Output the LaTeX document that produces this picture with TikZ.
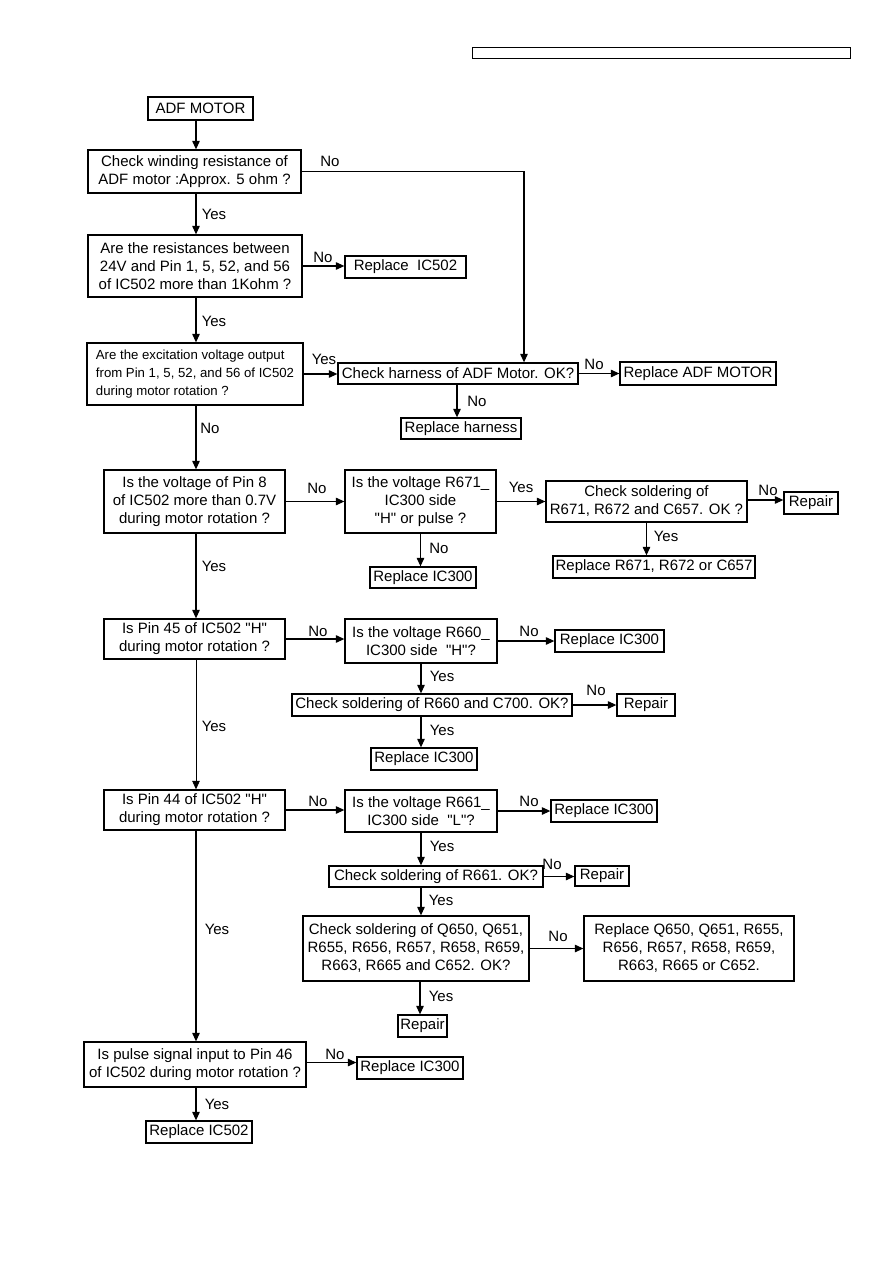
\documentclass[tikz,border=0pt]{standalone}
\usepackage{fontspec}
\setmainfont{Liberation Sans}[Ligatures=TeXOff]
\usetikzlibrary{arrows.meta}
\begin{document}
\begin{tikzpicture}[x=1pt,y=-1pt,
  box/.style={draw,line width=1.3pt,inner sep=0pt,align=center,font=\fontsize{15}{18}\selectfont},
  lbl/.style={inner sep=0pt,font=\fontsize{15}{18}\selectfont},
  arr/.style={line width=1.1pt,-{Triangle[length=8.5pt,width=7.5pt]}},
  thinarr/.style={line width=0.7pt,-{Triangle[length=8.5pt,width=7.5pt]}},
  ln/.style={line width=1.1pt}]
\useasboundingbox (0,0) rectangle (893,1263);
\coordinate (spine) at (196,0);
\coordinate (col) at (421,0);
\coordinate (harnin) at (524,0);
% header
\node[draw,line width=0.8pt,minimum width=378pt,minimum height=11pt,inner sep=0pt] (hdr) at (661,52.5) {};
% nodes
\node[box,minimum width=105pt,minimum height=23pt] (start) at (200.5,108.5) {ADF MOTOR};
\node[box,minimum width=213pt,minimum height=43pt] (b1) at (194.5,171.5) {Check winding resistance of\\ADF motor :Approx. 5 ohm ?};
\node[box,minimum width=214pt,minimum height=62pt] (b2) at (195,266) {Are the resistances between\\24V and Pin 1, 5, 52, and 56\\of IC502 more than 1Kohm ?};
\node[box,minimum width=121pt,minimum height=22pt] (rA) at (405.5,267) {Replace\ \ IC502};
\node[box,minimum width=216pt,minimum height=62pt,align=left,font=\fontsize{13.2}{18}\selectfont] (b3) at (195,374) {Are the excitation voltage output\\from Pin 1, 5, 52, and 56 of IC502\\during motor rotation ?};
\node[box,minimum width=240pt,minimum height=21pt] (harn) at (458,373.5) {Check harness of ADF Motor. OK?};
\node[box,minimum width=156pt,minimum height=23pt] (rADF) at (698,373.5) {Replace ADF MOTOR};
\node[box,minimum width=120pt,minimum height=21pt] (rharn) at (461,428.5) {Replace harness};
\node[box,minimum width=181pt,minimum height=63pt] (b4) at (194.5,501.5) {Is the voltage of Pin 8\\of IC502 more than 0.7V\\during motor rotation ?};
\node[box,minimum width=151pt,minimum height=63pt] (b5) at (420.5,501.5) {Is the voltage R671\_\\IC300 side\\"H" or pulse ?};
\node[box,minimum width=201pt,minimum height=41pt] (b6) at (646.5,501.5) {Check soldering of\\R671, R672 and C657. OK ?};
\node[box,minimum width=54pt,minimum height=22pt] (rep1) at (811,503) {Repair};
\node[box,minimum width=202pt,minimum height=22pt] (rR) at (654,567) {Replace R671, R672 or C657};
\node[box,minimum width=106pt,minimum height=21pt] (ra) at (423,577.5) {Replace IC300};
\node[box,minimum width=181pt,minimum height=40pt] (b7) at (194.5,639) {Is Pin 45 of IC502 "H"\\during motor rotation ?};
\node[box,minimum width=152pt,minimum height=44pt] (b8) at (421,641) {Is the voltage R660\_\\IC300 side\ \ "H"?};
\node[box,minimum width=109pt,minimum height=22pt] (rb) at (609.5,641) {Replace IC300};
\node[box,minimum width=280pt,minimum height=22pt] (b9) at (432,705) {Check soldering of R660 and C700. OK?};
\node[box,minimum width=58pt,minimum height=22pt] (rep2) at (646,705) {Repair};
\node[box,minimum width=106pt,minimum height=22pt] (rc) at (424,759) {Replace IC300};
\node[box,minimum width=181pt,minimum height=40pt] (b10) at (194.5,810) {Is Pin 44 of IC502 "H"\\during motor rotation ?};
\node[box,minimum width=152pt,minimum height=42pt] (b11) at (421,811) {Is the voltage R661\_\\IC300 side\ \ "L"?};
\node[box,minimum width=106pt,minimum height=22pt] (rd) at (604,811) {Replace IC300};
\node[box,minimum width=214pt,minimum height=21pt] (b12) at (436,876.5) {Check soldering of R661. OK?};
\node[box,minimum width=54pt,minimum height=20pt] (rep3) at (602,876) {Repair};
\node[box,minimum width=226pt,minimum height=65pt] (b13) at (416,948.5) {Check soldering of Q650, Q651,\\R655, R656, R657, R658, R659,\\R663, R665 and C652. OK?};
\node[box,minimum width=210pt,minimum height=65pt] (b14) at (689,948.5) {Replace Q650, Q651, R655,\\R656, R657, R658, R659,\\R663, R665 or C652.};
\node[box,minimum width=49pt,minimum height=22pt] (rep4) at (422.5,1026) {Repair};
\node[box,minimum width=222pt,minimum height=45pt] (b15) at (195,1064.5) {Is pulse signal input to Pin 46\\of IC502 during motor rotation ?};
\node[box,minimum width=106pt,minimum height=22pt] (re) at (410,1068) {Replace IC300};
\node[box,minimum width=106pt,minimum height=22pt] (rB) at (199,1132) {Replace IC502};
% connectors
\draw[arr] (spine |- start.south) -- (spine |- b1.north);
\draw[arr] (b1.east) -| (harnin |- harn.north);
\draw[arr] (spine |- b1.south) -- (spine |- b2.north);
\draw[arr] (b2.east) -- (b2.east -| rA.west);
\draw[arr] (spine |- b2.south) -- (spine |- b3.north);
\draw[arr] (b3.east) -- (b3.east -| harn.west);
\draw[arr] (harn.east) -- (harn.east -| rADF.west);
\draw[arr] ([xshift=-1pt]harn.south) -- ([xshift=-1pt]harn.south |- rharn.north);
\draw[arr] (spine |- b3.south) -- (spine |- b4.north);
\draw[arr] (b4.east) -- (b4.east -| b5.west);
\draw[arr] (b5.east) -- (b5.east -| b6.west);
\draw[arr] ([yshift=1.5pt]b6.east) -- ([yshift=1.5pt]b6.east -| rep1.west);
\draw[arr] (b6.south) -- (b6.south |- rR.north);
\draw[arr] (b5.south) -- (b5.south |- ra.north);
\draw[arr] (spine |- b4.south) -- (spine |- b7.north);
\draw[arr] (b7.east) -- (b7.east -| b8.west);
\draw[arr] (b8.east) -- (b8.east -| rb.west);
\draw[arr] (col |- b8.south) -- (col |- b9.north);
\draw[arr] (b9.east) -- (b9.east -| rep2.west);
\draw[arr] (col |- b9.south) -- (col |- rc.north);
\draw[thinarr] (spine |- b7.south) -- (spine |- b10.north);
\draw[arr] (b10.east) -- (b10.east -| b11.west);
\draw[arr] (b11.east) -- (b11.east -| rd.west);
\draw[arr] (col |- b11.south) -- (col |- b12.north);
\draw[arr] (b12.east) -- (b12.east -| rep3.west);
\draw[arr] (col |- b12.south) -- (col |- b13.north);
\draw[arr] (b13.east) -- (b13.east -| b14.west);
\draw[arr] ([xshift=-1pt]col |- b13.south) -- ([xshift=-1pt]col |- rep4.north);
\draw[arr] (spine |- b10.south) -- (spine |- b15.north);
\draw[arr] ([yshift=2pt]b15.east) -- ([yshift=2pt]b15.east -| re.west);
\draw[arr] (spine |- b15.south) -- (spine |- rB.north);
% labels
\node[lbl] (l1) at (330,161) {No};
\node[lbl] (l2) at (214,214) {Yes};
\node[lbl] (l3) at (323,257) {No};
\node[lbl] (l4) at (214,321) {Yes};
\node[lbl] (l5) at (324,359) {Yes};
\node[lbl] (l6) at (594,364) {No};
\node[lbl] (l7) at (477,401) {No};
\node[lbl] (l8) at (210,428) {No};
\node[lbl] (l9) at (317,488) {No};
\node[lbl] (l10) at (521,487) {Yes};
\node[lbl] (l11) at (768,490) {No};
\node[lbl] (l12) at (666,536) {Yes};
\node[lbl] (l13) at (439,548) {No};
\node[lbl] (l14) at (214,566) {Yes};
\node[lbl] (l15) at (318,631) {No};
\node[lbl] (l16) at (529,631) {No};
\node[lbl] (l17) at (442,676) {Yes};
\node[lbl] (l18) at (596,690) {No};
\node[lbl] (l19) at (442,730) {Yes};
\node[lbl] (l20) at (214,726) {Yes};
\node[lbl] (l21) at (318,801) {No};
\node[lbl] (l22) at (529,801) {No};
\node[lbl] (l23) at (442,846) {Yes};
\node[lbl] (l24) at (552,864) {No};
\node[lbl] (l25) at (441,900) {Yes};
\node[lbl] (l26) at (217,929) {Yes};
\node[lbl] (l27) at (558,936) {No};
\node[lbl] (l28) at (441,996) {Yes};
\node[lbl] (l29) at (335,1054) {No};
\node[lbl] (l30) at (217,1104) {Yes};
\end{tikzpicture}
\end{document}
